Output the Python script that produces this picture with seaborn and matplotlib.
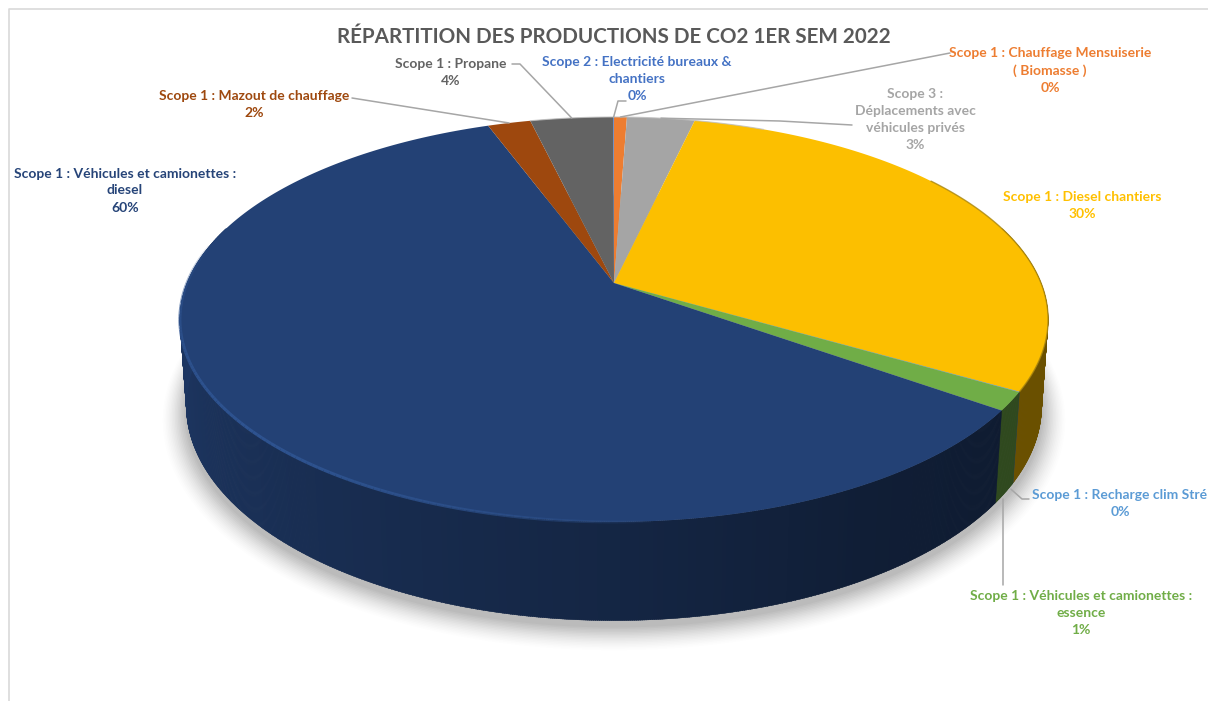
import numpy as np
import matplotlib
matplotlib.use("Agg")
import matplotlib.pyplot as plt
import seaborn as sns

title = "RÉPARTITION DES PRODUCTIONS DE CO2 1ER SEM 2022"
categories = ["Scope 1 : Chauffage Mensuiserie\n( Biomasse )",
              "Scope 3 :\nDéplacements avec\nvéhicules privés",
              "Scope 1 : Diesel chantiers",
              "Scope 1 : Recharge clim Stré",
              "Scope 1 : Véhicules et camionettes :\nessence",
              "Scope 1 : Véhicules et camionettes :\ndiesel",
              "Scope 1 : Mazout de chauffage",
              "Scope 1 : Propane",
              "Scope 2 : Electricité bureaux &\nchantiers"]
values = [0.57, 3.0, 29.85, 0.03, 1.45, 59.5, 1.9, 3.67, 0.03]
percent_labels = ["0%", "3%", "30%", "0%", "1%", "60%", "2%", "4%", "0%"]

sns.set_theme(style="white")
plt.rcParams['font.family'] = ['Lato', 'DejaVu Sans']
face = sns.color_palette(["#ED7D31", "#A5A5A5", "#FCBF00", "#5B9BD5", "#70AD47",
                          "#234175", "#9E480E", "#636363", "#4472C4"])
text_col = ["#ED7D31", "#A5A5A5", "#FFC000", "#5B9BD5", "#70AD47",
            "#264478", "#9E480E", "#636363", "#4472C4"]

# projection of the 3D disc
CX, CY, A, B, K, DEPTH_W, DEPTH_N = 614, 283, 427, 195.9, 0.18, 0.0146, 85.8

def top(t):
    u, v = np.sin(t), np.cos(t)
    w = 1 + K * v
    return CX + A * u / w, CY - B * v / w

def low(t):
    u, v = np.sin(t), np.cos(t)
    w = 1 + DEPTH_W + K * v
    return CX + A * u / w, CY + (DEPTH_N - B * v) / w

fig = plt.figure(figsize=(12.08, 7.01), dpi=100)
ax = fig.add_axes([0, 0, 1, 1])
ax.set_xlim(0, 1208)
ax.set_ylim(701, 0)
ax.axis("off")

# chart frame
ax.plot([9, 9, 1208], [701, 9, 9], color="#D9D9D9", lw=1.2, zorder=0)

edges = 2 * np.pi * np.concatenate([[0], np.cumsum(values)]) / np.sum(values)
full = np.linspace(0, 2 * np.pi, 361)

# soft shadow under the disc
lx, ly = low(full)
for grow, alpha in zip(np.linspace(24, 1, 16), np.linspace(0.008, 0.028, 16)):
    ax.fill(CX + (lx - CX) * (1 + grow / 434), CY + 6 + (ly - CY) * (1 + grow / 340),
            color="black", alpha=alpha, lw=0, zorder=1)

def shade(t):
    d = np.degrees(t)
    return np.interp(d, [90, 125, 150, 180, 210, 270, 300], [0.42, 0.42, 0.46, 0.58, 0.68, 0.86, 0.9])

# side wall
for i, col in enumerate(face):
    ts = np.arange(edges[i], edges[i + 1] + 0.004, 0.004)
    ts = ts[(ts > np.pi / 2 - 0.3) & (ts < 2 * np.pi - np.pi / 2 + 0.3)]
    for a, b in zip(ts[:-1], ts[1:]):
        xa, ya = top(a); xb, yb = top(b + 0.002)
        xc, yc = low(b + 0.002); xd, yd = low(a)
        ax.fill([xa, xb, xc, xd], [ya, yb, yc, yd], color=np.array(col) * shade(a),
                lw=0.3, ec=np.array(col) * shade(a), zorder=2)

# top face
for i, col in enumerate(face):
    ts = np.linspace(edges[i], edges[i + 1], 200)
    x, y = top(ts)
    ax.fill(np.r_[CX, x], np.r_[CY, y], color=col, lw=0, zorder=3)

# bevel highlights, faded at both ends
ts = np.linspace(np.radians(175), np.radians(282), 120)
x, y = top(ts)
fade = np.sin(np.linspace(0, np.pi, 119)) ** 0.7
for j in range(119):
    ax.plot(x[j:j + 2], y[j:j + 2], color="#2E5390", lw=2.2, alpha=float(fade[j]), zorder=4,
            solid_capstyle="butt")
ts = np.linspace(np.radians(55), edges[3], 120)
x, y = top(ts)
ax.plot(x, y, color="#A8850E", lw=1, alpha=0.8, zorder=4)
ts = np.linspace(edges[7], edges[9] + 0.42, 100)
x, y = top(ts)
ax.plot(x, y, color="#BFBFBF", lw=0.8, alpha=0.8, zorder=4)

# labels
label_xy = [(1050, 70.5), (915, 119.5), (1082, 205.5), (1120, 503.5), (1081, 613),
            (125, 190.5), (254, 104.5), (451, 72.5), (637, 79)]
for name, pct, col, (x, y) in zip(categories, percent_labels, text_col, label_xy):
    ax.text(x, y, f"{name}\n{pct}", color=col, ha="center", va="center",
            fontsize=10, fontweight="bold", linespacing=1.5, zorder=6, clip_on=True)

ax.text(614, 37, title, color="#595959", ha="center", va="center", fontsize=14.9,
        fontweight="bold", zorder=6)

# leader lines: start at the slice rim, end at the label
mid = (edges[:-1] + edges[1:]) / 2
elbows = {0: [(950, 53)], 1: [(780, 121), (852, 125)], 3: [(1022, 499), (1029, 499)],
          4: [(1003, 585)], 6: [(352, 98)], 7: [(520, 64), (512, 64)], 8: [(618, 101), (626, 101)]}
for i, pts in elbows.items():
    x0, y0 = (low(mid[i]) if i in (3, 4) else top(mid[i]))
    if i == 3:
        x0, y0 = x0 - 2, y0 + 6
    if i == 4:
        x0, y0 = 1003, y0 + 6
    xs = [x0] + [p[0] for p in pts]
    ys = [y0] + [p[1] for p in pts]
    ax.plot(xs, ys, color="#A6A6A6", lw=1.1, zorder=5)

fig.savefig("out.png", dpi=100)
